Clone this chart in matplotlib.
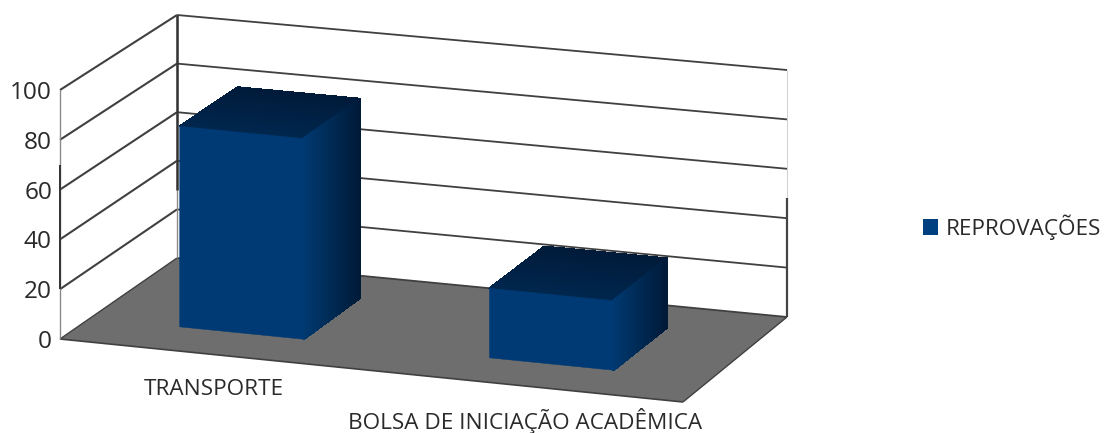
import numpy as np
import matplotlib
matplotlib.use("Agg")
import matplotlib.pyplot as plt
from matplotlib.patches import Polygon, Patch
from matplotlib.collections import PolyCollection

categories = ["TRANSPORTE", "BOLSA DE INICIAÇÃO ACADÊMICA"]
series_name = "REPROVAÇÕES"
values = [81, 28]
value_ticks = [0, 20, 40, 60, 80, 100]

W, H = 1106, 433
plt.rcParams["font.family"] = ["Open Sans", "DejaVu Sans"]
fig = plt.figure(figsize=(W / 100, H / 100), dpi=100)
ax = fig.add_axes([0, 0, 1, 1])
ax.set_xlim(0, W)
ax.set_ylim(H, 0)
ax.axis("off")

# 3D box projection (pixel frame of the plot cube)
FL, FR = np.array([60.0, 339.0]), np.array([683.0, 402.0])
BL, BR = np.array([177.0, 258.0]), np.array([787.0, 317.0])
SCALE_F, SCALE_BL, SCALE_BR = 2.49, 2.43, 2.47
ZMAX = value_ticks[-1]


def P(u, v, z=0.0):
    """u: along categories 0-1, v: depth 0-1, z: value."""
    base = (1 - u) * (1 - v) * FL + u * (1 - v) * FR + (1 - u) * v * BL + u * v * BR
    s = (1 - v) * SCALE_F + v * ((1 - u) * SCALE_BL + u * SCALE_BR)
    return base - np.array([0.0, s * z])


def poly(pts, **kw):
    ax.add_patch(Polygon(np.array(pts), closed=True, **kw))


GRID = "#404040"
TEXT = "#2a2a2a"
# walls and floor
poly([P(0, 1), P(1, 1), P(1, 1, ZMAX), P(0, 1, ZMAX)], fc="white", ec="none", zorder=1)
poly([P(0, 0), P(0, 1), P(0, 1, ZMAX), P(0, 0, ZMAX)], fc="white", ec="none", zorder=1)
poly([P(0, 0), P(1, 0), P(1, 1), P(0, 1)], fc="#6e6e6e", ec="none", zorder=2)


def seg(a, b, c=GRID, lw=1.0, z=3):
    ax.plot([a[0], b[0]], [a[1], b[1]], color=c, lw=lw, zorder=z, solid_capstyle="butt")


for t in value_ticks:
    seg(P(0, 0, t), P(0, 1, t), lw=1.5 if t else 1.0)
    seg(P(0, 1, t), P(1, 1, t), lw=1.3)
    ax.text(52, P(0, 0, t)[1] + 3, str(t), ha="right", va="center",
            fontsize=17.6, color=TEXT, zorder=6)

seg(P(1, 0), P(1, 1), lw=1.0)
seg(P(0, 0), P(1, 0), lw=1.2)
# vertical edges: thin grey with darker stretches
seg(P(0, 0), P(0, 0, ZMAX), c="#8a8a8a", lw=1.0)
seg(P(0, 1), P(0, 1, ZMAX), c="#8a8a8a", lw=1.0)
seg(P(1, 1), P(1, 1, ZMAX), c="#cfcfcf", lw=0.7)
seg(P(0, 0, 20), P(0, 0, 70), c="#333333", lw=1.4)
seg(P(0, 1, 28), P(0, 1, ZMAX), c="#333333", lw=1.8)
seg(P(1, 1), P(1, 1, 48), c="#444444", lw=1.6)

# bars
BAR_W, BAR_SHIFT, V0, V1 = 0.2, -0.006, 0.26, 0.765
FRONT = "#003a75"


def strips(q0, q1, q2, q3, c0, c1, n=40):
    """Gradient quad: interpolated q0-q1 to q3-q2."""
    q0, q1, q2, q3 = map(np.array, (q0, q1, q2, q3))
    c0, c1 = np.array(matplotlib.colors.to_rgb(c0)), np.array(matplotlib.colors.to_rgb(c1))
    verts, cols = [], []
    for i in range(n):
        a, b = i / n, (i + 1) / n
        verts.append([q0 + (q3 - q0) * a, q1 + (q2 - q1) * a, q1 + (q2 - q1) * b, q0 + (q3 - q0) * b])
        cols.append(c0 + (c1 - c0) * (a + b) / 2)
    pc = PolyCollection(verts, facecolors=cols, edgecolors=cols, linewidths=0.8,
                        antialiased=False, zorder=5)
    ax.add_collection(pc)


for i, val in enumerate(values):
    c = (i + 0.5) / len(values) + BAR_SHIFT
    u0, u1 = c - BAR_W / 2, c + BAR_W / 2
    # top face
    strips(P(u0, V0, val), P(u1, V0, val), P(u1, V1, val), P(u0, V1, val), "#00274f", "#001b3a")
    # right side face
    strips(P(u1, V0, 0), P(u1, V0, val), P(u1, V1, val), P(u1, V1, 0), "#003a72", "#001a38")
    # front face
    poly([P(u0, V0), P(u1, V0), P(u1, V0, val), P(u0, V0, val)], fc=FRONT, ec=FRONT, lw=0.3, zorder=6)
    # category label
    x, y = P(c, 0)
    ax.text(x + 2, y + 35, categories[i], ha="center", va="center",
            fontsize=16.2, color=TEXT, zorder=7)

leg = ax.legend(handles=[Patch(fc="#004080", ec="none", label=series_name)],
                loc="center left", bbox_to_anchor=(923, 227),
                bbox_transform=ax.transData, frameon=False, fontsize=16.2,
                handlelength=0.67, handleheight=0.7, handletextpad=0.36,
                borderpad=0, borderaxespad=0, labelcolor=TEXT)

fig.savefig("out.png", dpi=100, facecolor="white")
